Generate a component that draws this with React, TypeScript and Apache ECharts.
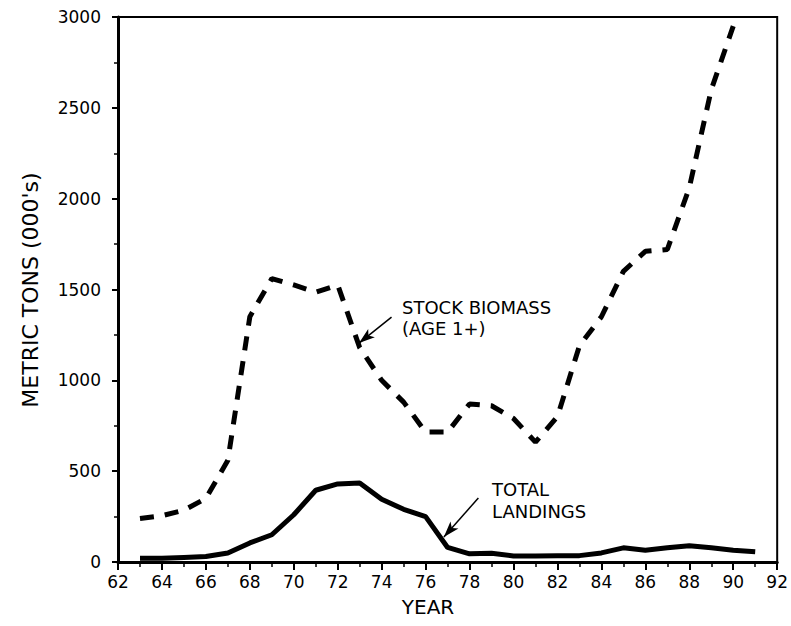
import React, { useEffect, useRef } from "react";
import * as echarts from "echarts";

const years = [63, 64, 65, 66, 67, 68, 69, 70, 71, 72, 73, 74, 75, 76, 77, 78, 79, 80, 81, 82, 83, 84, 85, 86, 87, 88, 89, 90, 91];
const biomassYears = [63, 64, 65, 66, 67, 68, 69, 70, 71, 72, 73, 74, 75, 76, 77, 78, 79, 80, 81, 82, 83, 84, 85, 86, 87, 88, 89, 90];
const stockBiomass = [240, 255, 285, 350, 560, 1350, 1560, 1525, 1485, 1525, 1180, 1000, 880, 715, 715, 870, 860, 790, 660, 800, 1190, 1350, 1600, 1710, 1720, 2060, 2600, 2950];
const totalLandings = [20, 20, 25, 30, 50, 105, 150, 260, 395, 430, 435, 345, 290, 250, 80, 45, 48, 33, 33, 35, 35, 50, 78, 65, 78, 90, 78, 65, 57];

const FONT = "DejaVu Sans";

export default function App() {
  const ref = useRef<HTMLDivElement>(null);
  useEffect(() => {
    if (!ref.current) return;
    const chart = echarts.init(ref.current, null, { renderer: "svg" });
    chart.setOption({
      animation: false,
      backgroundColor: "#ffffff",
      grid: { left: 118, right: 7, top: 17, bottom: 64, show: true, borderColor: "#000", borderWidth: 2 },
      xAxis: {
        type: "value",
        min: 62,
        max: 92,
        interval: 2,
        axisLine: { show: true, lineStyle: { color: "#000", width: 3 } },
        axisTick: { show: true, length: 8, inside: false, lineStyle: { color: "#000", width: 2 } },
        minorTick: { show: true, splitNumber: 2, length: 5, lineStyle: { color: "#000", width: 1.5 } },
        splitLine: { show: false },
        axisLabel: { color: "#000", fontFamily: FONT, fontSize: 17, margin: 11, formatter: (v: number) => String(v) },
      },
      yAxis: {
        type: "value",
        min: 0,
        max: 3000,
        interval: 500,
        axisLine: { show: true, lineStyle: { color: "#000", width: 3 } },
        axisTick: { show: true, length: 6, lineStyle: { color: "#000", width: 2 } },
        minorTick: { show: true, splitNumber: 2, length: 4, lineStyle: { color: "#000", width: 1.5 } },
        splitLine: { show: false },
        axisLabel: { color: "#000", fontFamily: FONT, fontSize: 17, margin: 17, formatter: (v: number) => String(v) },
      },
      series: [
        {
          type: "line",
          name: "STOCK BIOMASS",
          data: biomassYears.map((y, i) => [y, stockBiomass[i]]),
          showSymbol: false,
          lineStyle: { color: "#000", width: 5, type: [14, 11], cap: "butt" },
          markLine: {
            silent: true,
            symbol: ["none", "arrow"],
            symbolSize: [8, 16],
            label: { show: false },
            lineStyle: { color: "#000", width: 1.5, type: "solid" },
            data: [[{ coord: [74.45, 1348] }, { coord: [72.97, 1205] }]],
          },
        },
        {
          type: "line",
          name: "TOTAL LANDINGS",
          data: years.map((y, i) => [y, totalLandings[i]]),
          showSymbol: false,
          lineStyle: { color: "#000", width: 5 },
          markLine: {
            silent: true,
            symbol: ["none", "arrow"],
            symbolSize: [8, 16],
            label: { show: false },
            lineStyle: { color: "#000", width: 1.5, type: "solid" },
            data: [[{ coord: [78.4, 352] }, { coord: [76.83, 138] }]],
          },
        },
      ],
      graphic: [
        { type: "text", left: 402, top: 297, style: { text: "STOCK BIOMASS\n(AGE 1+)", font: `18px '${FONT}'`, fill: "#000", lineHeight: 21 } },
        { type: "text", left: 492, top: 478, style: { text: "TOTAL\nLANDINGS", font: `18px '${FONT}'`, fill: "#000", lineHeight: 22 } },
        { type: "text", x: 428, y: 607, style: { text: "YEAR", font: `20px '${FONT}'`, fill: "#000", align: "center", verticalAlign: "middle" } },
        { type: "text", x: 30, y: 290, rotation: Math.PI / 2, style: { text: "METRIC TONS (000's)", font: `22px '${FONT}'`, fill: "#000", align: "center", verticalAlign: "middle" } },
      ],
    });
    return () => chart.dispose();
  }, []);
  return <div ref={ref} style={{ width: 791, height: 626, position: "absolute", left: 0, top: 0 }} />;
}
